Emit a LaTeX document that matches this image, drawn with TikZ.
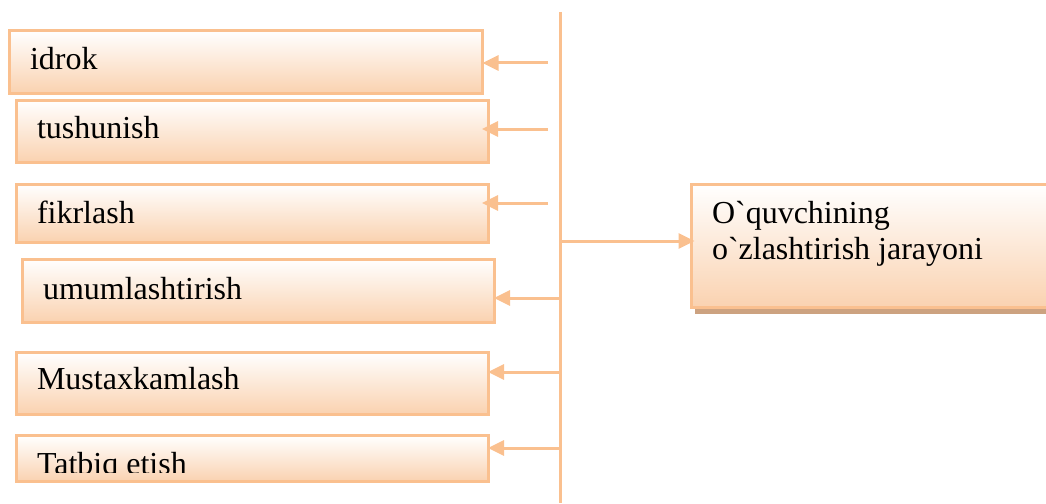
\documentclass[tikz,border=0pt]{standalone}
\usepackage{fontspec}
\setmainfont{Liberation Serif}
\usetikzlibrary{arrows.meta,shadows}
\definecolor{peachline}{RGB}{250,192,143}
\definecolor{peachfill}{RGB}{250,210,176}
\definecolor{shadowc}{RGB}{204,162,128}
\tikzset{
  box/.style={draw=peachline, line width=3pt, top color=white, bottom color=peachfill,
    rectangle, anchor=north west, inner sep=0pt, outer sep=0pt},
  lbl/.style={anchor=base west, inner sep=0pt, outer sep=0pt, font=\fontsize{32}{36}\selectfont},
  arr/.style={draw=peachline, line width=3pt, -{Triangle[length=16pt,width=15pt]}},
  vline/.style={draw=peachline, line width=3pt}
}
\begin{document}
\begin{tikzpicture}[x=1pt,y=-1pt]
\useasboundingbox (0,0) rectangle (1046,503);
\clip (0,0) rectangle (1046,503);
% left boxes
\node[box, minimum width=473pt, minimum height=62pt] (b1) at (9.5,31) {};
\node[box, minimum width=472pt, minimum height=62pt] (b2) at (16,100) {};
\node[box, minimum width=472pt, minimum height=58pt] (b3) at (16,184) {};
\node[box, minimum width=472pt, minimum height=63pt] (b4) at (22,259) {};
\node[box, minimum width=472pt, minimum height=62pt] (b5) at (16,352) {};
\node[box, minimum width=472pt, minimum height=46pt] (b6) at (16,435.5) {};
% texts
\node[lbl] (t1) at (30,70) {idrok};
\node[lbl] (t2) at (37,138) {tushunish};
\node[lbl] (t3) at (37,223) {fikrlash};
\node[lbl] (t4) at (43,299) {umumlashtirish};
\node[lbl] (t5) at (37,389) {Mustaxkamlash};
\begin{scope}
\clip (16,436) rectangle (488,472);
\node[lbl] (t6) at (37,474) {Tatbiq etish};
\end{scope}
% right box
\node[box, minimum width=520pt, minimum height=123pt,
  drop shadow={shadow xshift=3pt, shadow yshift=-6pt, fill=shadowc, opacity=1}] (r) at (691.5,184.5) {};
\node[lbl, align=left] (rt) at (712,259) {O\textasciigrave quvchining\\o\textasciigrave zlashtirish jarayoni};
% vertical line
\coordinate (vt) at (560.5,12);
\coordinate (vb) at (560.5,503);
\draw[vline] (vt) -- (vb);
% arrow start points
\coordinate (s1) at (548,63);
\coordinate (s2) at (548,129);
\coordinate (s3) at (548,203);
\coordinate (s4) at (560.5,298);
\coordinate (s5) at (560.5,372);
\coordinate (s6) at (560.5,448);
\coordinate (s7) at (560.5,241);
\draw[arr] (s1) -- (s1 -| b1.east);
\draw[arr, shorten >=-6pt] (s2) -- (s2 -| b2.east);
\draw[arr, shorten >=-6pt] (s3) -- (s3 -| b3.east);
\draw[arr] (s4) -- (s4 -| b4.east);
\draw[arr] (s5) -- (s5 -| b5.east);
\draw[arr] (s6) -- (s6 -| b6.east);
\draw[arr, shorten >=-3pt] (s7) -- (s7 -| r.west);
\end{tikzpicture}
\end{document}
